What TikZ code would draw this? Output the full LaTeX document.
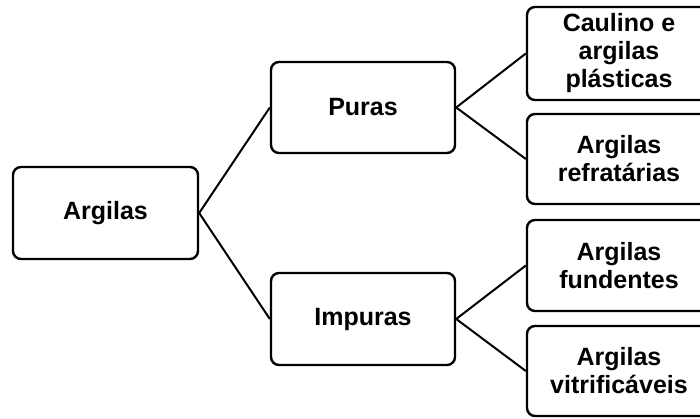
\documentclass[tikz,border=0pt]{standalone}
\usepackage{fontspec}
\setmainfont{Liberation Sans}
\begin{document}
\begin{tikzpicture}[x=1pt,y=-1pt,
  box/.style={draw=black, line width=2.4pt, rounded corners=8pt, fill=white,
    align=center, inner sep=0pt, font=\bfseries\fontsize{25}{28}\selectfont},
  link/.style={draw=black, line width=2pt}]
  \useasboundingbox (0,0) rectangle (700,419);
  \clip (0,0) rectangle (700,419);
  % root
  \node[box, minimum width=185pt, minimum height=92pt] (arg) at (105.5,213) {Argilas};
  % second level
  \node[box, minimum width=184pt, minimum height=91pt] (pur) at (363,107.5) {Puras};
  \node[box, minimum width=184pt, minimum height=92pt] (imp) at (363,319) {Impuras};
  % leaves
  \node[box, minimum width=184pt, minimum height=93pt] (cau) at (619,53.5) {Caulino e\\argilas\\plásticas};
  \node[box, minimum width=184pt, minimum height=90pt] (ref) at (619,159) {Argilas\\refratárias};
  \node[box, minimum width=184pt, minimum height=91pt] (fun) at (619,265.5) {Argilas\\fundentes};
  \node[box, minimum width=184pt, minimum height=90pt] (vit) at (619,371) {Argilas\\vitrificáveis};
  % connectors
  \draw[link] (arg.east) -- (pur.west);
  \draw[link] (arg.east) -- (imp.west);
  \draw[link] (pur.east) -- (cau.west);
  \draw[link] (pur.east) -- (ref.west);
  \draw[link] (imp.east) -- (fun.west);
  \draw[link] (imp.east) -- (vit.west);
\end{tikzpicture}
\end{document}
